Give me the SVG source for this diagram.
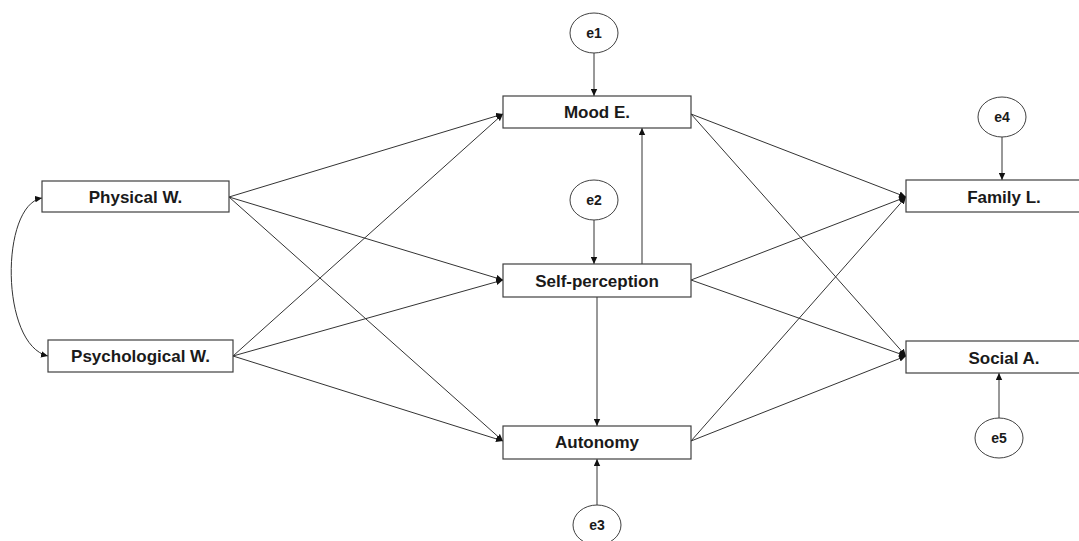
<svg xmlns="http://www.w3.org/2000/svg" width="1079" height="541" viewBox="0 0 1079 541">
<style>
.box{fill:#fff;stroke:#404040;stroke-width:1.2}
.err{fill:#fff;stroke:#404040;stroke-width:1}
.lbl{font-family:"Liberation Sans",Arial,sans-serif;font-weight:bold;font-size:17px;fill:#1a1a1a;text-anchor:middle}
.elbl{font-family:"Liberation Sans",Arial,sans-serif;font-weight:bold;font-size:14px;fill:#1a1a1a;text-anchor:middle}
.c{fill:none;stroke:#333;stroke-width:1;marker-end:url(#ah)}
</style>
<defs>
<marker id="ah" markerUnits="userSpaceOnUse" markerWidth="7" markerHeight="7" refX="7" refY="3.5" orient="auto-start-reverse">
<path d="M0,0.3 L7,3.5 L0,6.7 z" fill="#111"/>
</marker>
</defs>
<rect width="1079" height="541" fill="#fff"/>
<g id="connectors">
<path class="c" d="M229,197 L503,114"/>
<path class="c" d="M229,197 L503,280"/>
<path class="c" d="M229,197 L503,441"/>
<path class="c" d="M233,356 L503,114"/>
<path class="c" d="M233,356 L503,280"/>
<path class="c" d="M233,356 L503,441"/>
<path class="c" d="M691,114 L906,197"/>
<path class="c" d="M691,114 L906,356"/>
<path class="c" d="M691,280 L906,197"/>
<path class="c" d="M691,280 L906,356"/>
<path class="c" d="M691,441 L906,197"/>
<path class="c" d="M691,441 L906,356"/>
<path class="c" d="M642,264 L642,128"/>
<path class="c" d="M597,297 L597,426"/>
<path class="c" d="M594,53 L594,96"/>
<path class="c" d="M594,220 L594,264"/>
<path class="c" d="M597,505 L597,459"/>
<path class="c" d="M1002,137 L1002,180"/>
<path class="c" d="M999,418 L999,373"/>
<path class="c" style="marker-start:url(#ah)" d="M42,198 C0,205 0,345 48,356"/>
</g>
<g id="physical"><rect class="box" x="42" y="181" width="187" height="31"/><text class="lbl" x="135.5" y="203">Physical W.</text></g>
<g id="psychological"><rect class="box" x="48" y="340" width="185" height="32"/><text class="lbl" x="140.5" y="362">Psychological W.</text></g>
<g id="mood"><rect class="box" x="503" y="96" width="188" height="32"/><text class="lbl" x="597" y="118">Mood E.</text></g>
<g id="self"><rect class="box" x="503" y="264" width="188" height="33"/><text class="lbl" x="597" y="287">Self-perception</text></g>
<g id="autonomy"><rect class="box" x="503" y="426" width="188" height="33"/><text class="lbl" x="597" y="448">Autonomy</text></g>
<g id="family"><rect class="box" x="906" y="180" width="190" height="32"/><text class="lbl" x="1004" y="203">Family L.</text></g>
<g id="social"><rect class="box" x="906" y="341" width="190" height="32"/><text class="lbl" x="1004" y="364">Social A.</text></g>
<g id="e1"><ellipse class="err" cx="594" cy="33" rx="24" ry="20"/><text class="elbl" x="594" y="38">e1</text></g>
<g id="e2"><ellipse class="err" cx="594" cy="200" rx="24" ry="20"/><text class="elbl" x="594" y="205">e2</text></g>
<g id="e3"><ellipse class="err" cx="597" cy="525" rx="24" ry="20"/><text class="elbl" x="597" y="530">e3</text></g>
<g id="e4"><ellipse class="err" cx="1002" cy="117" rx="24" ry="20"/><text class="elbl" x="1002" y="122">e4</text></g>
<g id="e5"><ellipse class="err" cx="999" cy="438" rx="24" ry="20"/><text class="elbl" x="999" y="443">e5</text></g>
</svg>
